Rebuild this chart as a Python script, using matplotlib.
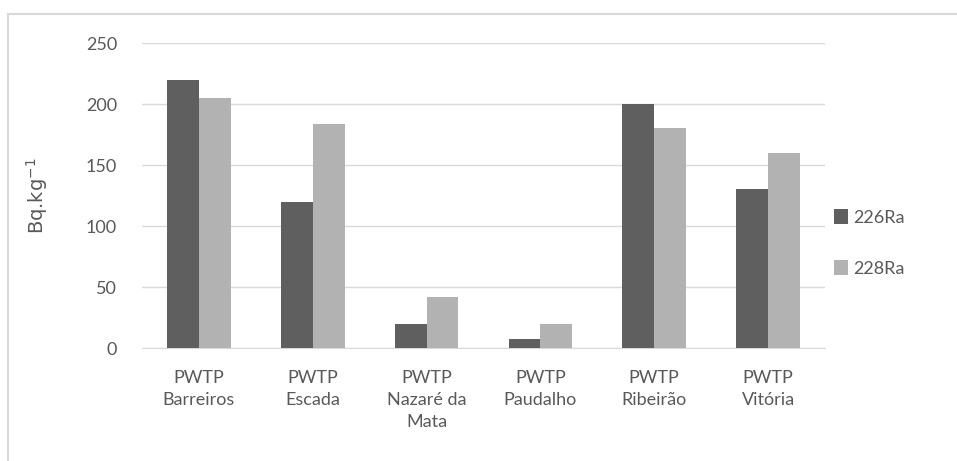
import numpy as np
import matplotlib
matplotlib.use("Agg")
import matplotlib.pyplot as plt
from matplotlib.lines import Line2D

plt.rcParams['font.family'] = ['Lato', 'DejaVu Sans']

categories = ["PWTP\nBarreiros", "PWTP\nEscada", "PWTP\nNazaré da\nMata",
              "PWTP\nPaudalho", "PWTP\nRibeirão", "PWTP\nVitória"]
ra226 = [220, 120, 20, 7, 200, 130]
ra228 = [205, 184, 42, 20, 180, 160]

text_color = "#595959"
fig = plt.figure(figsize=(9.57, 4.61), dpi=100)
ax = fig.add_axes([0.1484, 0.2451, 0.7136, 0.6616])

x = np.arange(len(categories))
w = 0.28
ax.bar(x - w / 2, ra226, w, color="#5f5f5f", label="226Ra", zorder=3)
ax.bar(x + w / 2, ra228, w, color="#b2b2b2", label="228Ra", zorder=3)

ax.set_xlim(-0.5, len(categories) - 0.5)
ax.set_ylim(0, 250)
ax.set_yticks(range(0, 251, 50))
ax.set_xticks(x)
ax.set_xticklabels(categories, linespacing=1.45)
ax.tick_params(axis="both", length=0, labelsize=13, colors=text_color)
ax.tick_params(axis="y", pad=18)
ax.tick_params(axis="x", pad=16)
ax.grid(axis="y", color="#d9d9d9", linewidth=1, zorder=0)
for s in ["top", "right", "left"]:
    ax.spines[s].set_visible(False)
ax.spines["bottom"].set_color("#d9d9d9")
ax.set_ylabel("Bq.kg$^{-1}$", fontsize=14, color=text_color, family="DejaVu Sans")
ax.yaxis.set_label_coords(-0.135, 0.5)

ax.legend(loc="center left", bbox_to_anchor=(0.99, 0.345), frameon=False,
          fontsize=13, labelcolor=text_color, handlelength=0.75, handleheight=0.9,
          handletextpad=0.3, labelspacing=1.9)

# light frame of the original chart area
fig.add_artist(Line2D([8 / 957, 8 / 957], [0, 1 - 14 / 461], transform=fig.transFigure,
                      color="#d9d9d9", linewidth=1.5))
fig.add_artist(Line2D([8 / 957, 1], [1 - 14 / 461, 1 - 14 / 461], transform=fig.transFigure,
                      color="#d9d9d9", linewidth=1.5))

fig.savefig("out.png", dpi=100)
